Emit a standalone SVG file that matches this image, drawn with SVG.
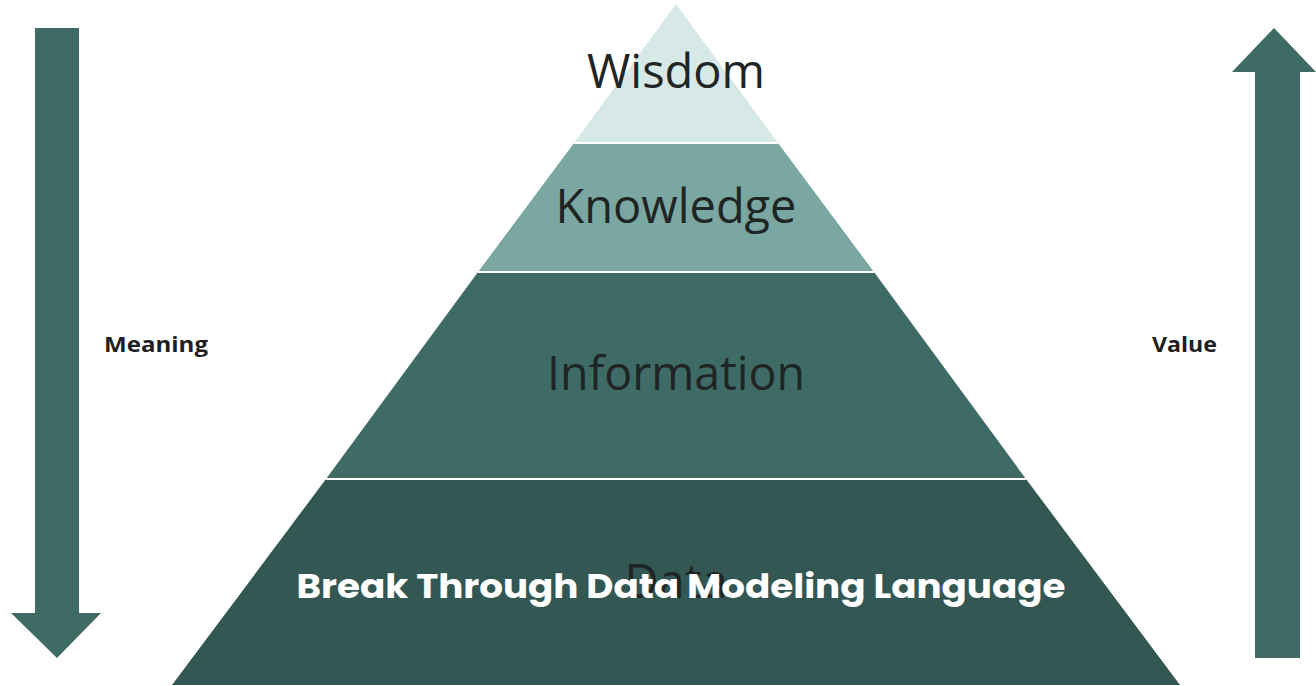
<svg xmlns="http://www.w3.org/2000/svg" width="1316" height="686" viewBox="0 0 1316 686">
<style>
.lvl{font-family:"Open Sans","Noto Sans",sans-serif;font-size:47px;fill:#1f2524;text-anchor:middle}
.side{font-family:"Open Sans","Noto Sans",sans-serif;font-size:21px;font-weight:700;fill:#1f1f1f}
.arrow{fill:#3f6b66}
.sep{stroke:#ffffff;stroke-width:2}
.title{font-family:"Poppins","Open Sans","Liberation Sans",sans-serif;font-size:34px;font-weight:700;fill:#ffffff;text-anchor:middle}
</style>
<rect width="1316" height="686" fill="#ffffff"/>
<g id="arrow-meaning">
<polygon class="arrow" points="35,28 79,28 79,613 101,613 57,658 11,613 35,613"/>
<text class="side" x="104" y="352" textLength="104" lengthAdjust="spacingAndGlyphs">Meaning</text>
</g>
<g id="arrow-value">
<polygon class="arrow" points="1274,28 1316,72 1300,72 1300,658 1255,658 1255,72 1232,72"/>
<text class="side" x="1152" y="352" textLength="65" lengthAdjust="spacingAndGlyphs">Value</text>
</g>
<g id="data">
<polygon points="326,479 1026,479 1180,685 172,685" fill="#335753"/>
<text class="lvl" x="676" y="598" font-size="48">Data</text>
</g>
<g id="information">
<polygon points="478,272 874,272 1026,479 326,479" fill="#3e6b66"/>
<text class="lvl" x="676" y="390" textLength="258" lengthAdjust="spacingAndGlyphs">Information</text>
</g>
<g id="knowledge">
<polygon points="574,143 778,143 874,272 478,272" fill="#7aa7a1"/>
<text class="lvl" x="676" y="223" textLength="241" lengthAdjust="spacingAndGlyphs">Knowledge</text>
</g>
<g id="wisdom">
<polygon points="676,4 778,143 574,143" fill="#d6e9e7"/>
<text class="lvl" x="676" y="88" textLength="178" lengthAdjust="spacingAndGlyphs">Wisdom</text>
</g>
<g id="connectors">
<line class="sep" x1="574" y1="143" x2="778" y2="143"/>
<line class="sep" x1="478" y1="272" x2="874" y2="272"/>
<line class="sep" x1="326" y1="479" x2="1026" y2="479"/>
</g>
<text class="title" x="681" y="598" textLength="769" lengthAdjust="spacingAndGlyphs">Break Through Data Modeling Language</text>
</svg>
